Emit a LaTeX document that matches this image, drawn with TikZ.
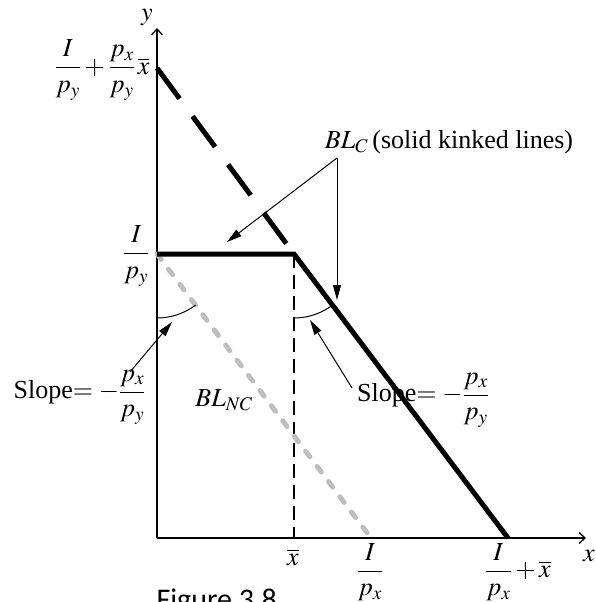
\documentclass[tikz,border=0pt]{standalone}
\usepackage{mathptmx}
\usepackage[no-math]{fontspec}
\setmainfont{Liberation Serif}
\newfontfamily\capfont{Carlito}
\usetikzlibrary{arrows.meta}
\definecolor{nclgray}{RGB}{190,190,190}

\begin{document}
\begin{tikzpicture}[x=1pt,y=-1pt,
    font=\fontsize{26}{31}\selectfont,
    axis/.style={line width=1.3pt,-{Straight Barb[length=6pt,width=11pt]}},
    budget/.style={line width=5pt},
    budgetdash/.style={line width=5pt,dash pattern=on 38pt off 22pt},
    nclline/.style={line width=5pt,draw=nclgray,line cap=round,dash pattern=on 7pt off 12pt},
    guide/.style={line width=1.2pt,dash pattern=on 14pt off 7pt},
    pointer/.style={line width=1pt,-{Triangle[length=15pt,width=8pt]}},
    anglearc/.style={line width=1pt}
  ]
  \useasboundingbox (0,0) rectangle (596,602);

  % axes
  \coordinate (O) at (157,538);
  \coordinate (ytop) at (157,28);
  \coordinate (xend) at (586,538);
  \draw[axis] (O) -- (ytop);
  \draw[axis] (O) -- (xend);
  \node[inner sep=1pt] (ylab) at (147,18) {$y$};
  \node (xlab) at (589,556) {$x$};

  % budget lines
  \coordinate (A) at (157,68);
  \coordinate (Ipy) at (157,254);
  \coordinate (K) at (294,254);
  \coordinate (Xe) at (508,538);
  \coordinate (Ipx) at (371,538);
  \coordinate (xbar) at (294,538);
  \draw[guide] (K) -- (xbar);
  \draw[nclline] (Ipy) -- (Ipx);
  \draw[budgetdash] (A) -- (K);
  \draw[budget,line join=miter] (Ipy) -- (K) -- (Xe);

  % axis labels
  \node[anchor=east] (yintlab) at (153,70) {$\displaystyle\frac{I}{p_y}+\frac{p_x}{p_y}\,\overline{x}$};
  \node[anchor=east] (ipylab) at (153,256) {$\displaystyle\frac{I}{p_y}$};
  \node (xbarlab) at (293,557) {$\overline{x}$};
  \node[inner sep=1pt] (ipxlab) at (370,572) {$\displaystyle\frac{I}{p_x}$};
  \node[inner sep=1pt] (xelab) at (518,572) {$\displaystyle\frac{I}{p_x}+\overline{x}$};

  % BL_C callout
  \node (blc) at (449,142) {$BL_C$\,(solid kinked lines)};
  \coordinate (blcfoot) at (337,158);
  \coordinate (flatpt) at (227,242);
  \coordinate (steeppt) at (337,300);
  \draw[pointer] (blcfoot) -- (flatpt);
  \draw[pointer] (blcfoot) -- (steeppt);

  \node (blnc) at (224,400) {$BL_{NC}$};

  % slope angles
  \draw[anglearc] (Ipy) ++(90:64) arc[start angle=90,end angle=53,radius=64];
  \draw[anglearc] (K) ++(90:64) arc[start angle=90,end angle=53,radius=64];
  \node[anchor=east] (slopeleft) at (149,397) {Slope$=-\displaystyle\frac{p_x}{p_y}$};
  \node (sloperight) at (423,400) {Slope$=-\displaystyle\frac{p_x}{p_y}$};
  \coordinate (lefttail) at (130,372);
  \coordinate (leftarc) at (172,322);
  \coordinate (righttail) at (352,388);
  \coordinate (rightarc) at (310,320);
  \draw[pointer] (lefttail) -- (leftarc);
  \draw[pointer] (righttail) -- (rightarc);

  \node[anchor=base west,font=\capfont\fontsize{30}{36}\selectfont] (figcap) at (153,609) {Figure 3.8};
\end{tikzpicture}
\end{document}
